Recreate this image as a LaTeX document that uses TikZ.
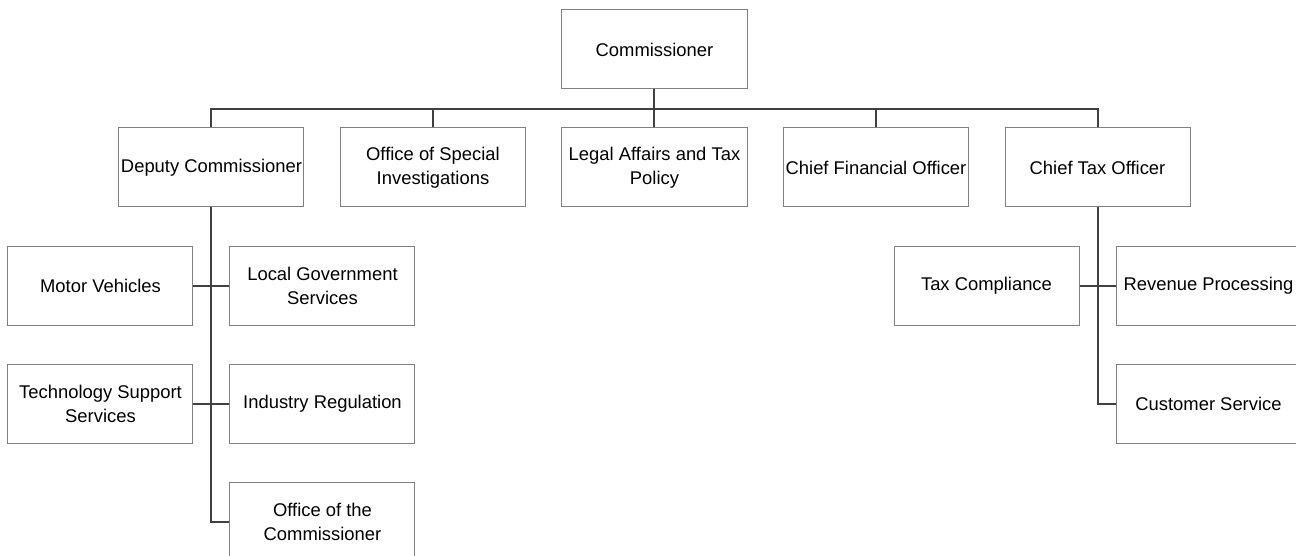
\documentclass[tikz,border=0pt]{standalone}
\usepackage{fontspec}
\setmainfont{Liberation Sans}

\begin{document}
\begin{tikzpicture}[
  office/.style={rectangle, draw=black!50, line width=1pt, text width=185pt, align=flush center, inner sep=0pt, minimum height=79pt, font=\fontsize{18.4pt}{24pt}\selectfont},
  link/.style={draw, black!75, line width=2pt}
]
    \useasboundingbox (-654.5pt,49.5pt) rectangle (641.5pt,-506.5pt);

    \node [office] (commish) at (0,0) {Commissioner};
    \node [office, below of=commish, node distance=118pt] (legal) {Legal Affairs and Tax Policy};
    \node [office, left of=legal, node distance=221.5pt] (special) {Office of Special Investigations};
    \node [office, left of=special, node distance=221.5pt] (deputy) {Deputy Commissioner};
    \node [office, right of=legal, node distance=221.5pt] (cfo) {Chief Financial Officer};
    \node [office, right of=cfo, node distance=221.5pt] (cto) {Chief Tax Officer};

    % under the deputy
    \node [office, below of=deputy, node distance=118.5pt, xshift=-111pt] (motor) {Motor Vehicles};
    \node [office, below of=deputy, node distance=118.5pt, xshift=111pt] (localgov) {Local Government Services};
    \node [office, below of=motor, node distance=118pt] (techsupp) {Technology Support Services};
    \node [office, below of=localgov, node distance=118pt] (industry) {Industry Regulation};
    \node [office, below of=industry, node distance=118pt] (ocomm) {Office of the Commissioner};

    % under the chief tax officer
    \node [office, below of=cto, node distance=118.5pt, xshift=-111pt] (taxcomp) {Tax Compliance};
    \node [office, below of=cto, node distance=118.5pt, xshift=111pt] (revenue) {Revenue Processing};
    \node [office, below of=revenue, node distance=118pt] (custserv) {Customer Service};

    \path [link] (commish.south) -- +(0,-19.5pt) -| (deputy.north);
    \path [link] (commish.south) -- +(0,-19.5pt) -| (special.north);
    \path [link] (commish.south) -- (legal.north);
    \path [link] (commish.south) -- +(0,-19.5pt) -| (cfo.north);
    \path [link] (commish.south) -- +(0,-19.5pt) -| (cto.north);

    \path [link] (deputy.south) |- (ocomm.west);
    \path [link] (motor.east) -- (localgov.west);
    \path [link] (techsupp.east) -- (industry.west);

    \path [link] (cto.south) |- (custserv.west);
    \path [link] (taxcomp.east) -- (revenue.west);
\end{tikzpicture}
\end{document}
